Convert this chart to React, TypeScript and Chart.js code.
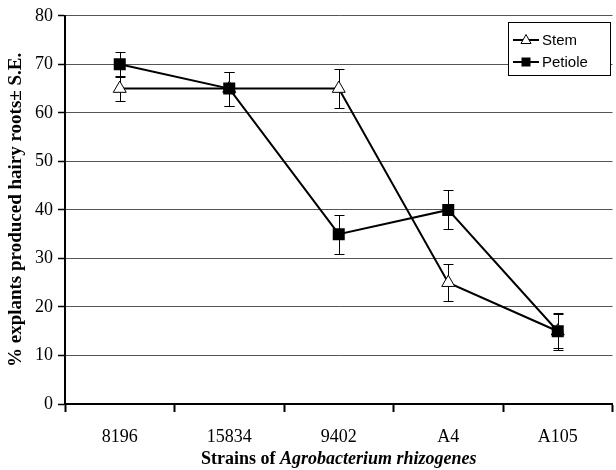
import React, { useEffect, useRef } from "react";
import { Chart, registerables } from "chart.js";

Chart.register(...registerables);

const categories = ["8196", "15834", "9402", "A4", "A105"];
const stemValues = [65, 65, 65, 25, 15];
const stemErrors = [2.6, 3.5, 4, 3.8, 3.5];
const petioleValues = [70, 65, 35, 40, 15];
const petioleErrors = [2.6, 3.5, 4, 4, 3.8];
const yTicks = [0, 10, 20, 30, 40, 50, 60, 70, 80];
const yTitle = "% explants produced hairy roots\u00b1 S.E.";
const xTitlePlain = "Strains of ";
const xTitleItalic = "Agrobacterium rhizogenes";

const serif = "'Liberation Serif', 'Times New Roman', serif";
const sans = "'Liberation Sans', Arial, sans-serif";

const errorBarPlugin = {
  id: "errorBars",
  beforeDatasetsDraw(chart: any) {
    const { ctx, scales } = chart;
    const x = scales.x;
    const y = scales.y;
    ctx.save();
    ctx.strokeStyle = "#000";
    ctx.lineWidth = 1;
    const sets = [
      { v: stemValues, e: stemErrors },
      { v: petioleValues, e: petioleErrors },
    ];
    sets.forEach(({ v, e }) => {
      v.forEach((val, i) => {
        const px = Math.round(x.getPixelForValue(i)) + 0.5;
        const top = Math.round(y.getPixelForValue(val + e[i])) + 0.5;
        const bot = Math.round(y.getPixelForValue(val - e[i])) + 0.5;
        ctx.beginPath();
        ctx.moveTo(px, top);
        ctx.lineTo(px, bot);
        ctx.moveTo(px - 5, top);
        ctx.lineTo(px + 5, top);
        ctx.moveTo(px - 5, bot);
        ctx.lineTo(px + 5, bot);
        ctx.stroke();
      });
    });
    ctx.restore();
  },
};

const extrasPlugin = {
  id: "extras",
  afterDraw(chart: any) {
    const { ctx, chartArea } = chart;
    ctx.save();
    // x-axis title with mixed fonts
    const fPlain = `bold 18px ${serif}`;
    const fItal = `italic bold 18px ${serif}`;
    ctx.font = fPlain;
    const w1 = ctx.measureText(xTitlePlain).width;
    ctx.font = fItal;
    const w2 = ctx.measureText(xTitleItalic).width;
    const cx = (chartArea.left + chartArea.right) / 2;
    const startX = cx - (w1 + w2) / 2;
    ctx.fillStyle = "#000";
    ctx.textBaseline = "middle";
    ctx.textAlign = "left";
    ctx.font = fPlain;
    ctx.fillText(xTitlePlain, startX, 459);
    ctx.font = fItal;
    ctx.fillText(xTitleItalic, startX + w1, 459);

    // legend
    const bx = 508.5, by = 22.5, bw = 102, bh = 53;
    ctx.fillStyle = "#fff";
    ctx.fillRect(bx, by, bw, bh);
    ctx.strokeStyle = "#000";
    ctx.lineWidth = 1;
    ctx.strokeRect(bx, by, bw, bh);
    const rows = [
      { label: "Stem", y: 40, kind: "tri" },
      { label: "Petiole", y: 62, kind: "sq" },
    ];
    rows.forEach((r) => {
      ctx.strokeStyle = "#000";
      ctx.lineWidth = 2;
      ctx.beginPath();
      ctx.moveTo(513, r.y);
      ctx.lineTo(539, r.y);
      ctx.stroke();
      const mx = 526;
      if (r.kind === "tri") {
        ctx.fillStyle = "#fff";
        ctx.lineWidth = 1;
        ctx.beginPath();
        ctx.moveTo(mx, r.y - 5.5);
        ctx.lineTo(mx + 5, r.y + 3.5);
        ctx.lineTo(mx - 5, r.y + 3.5);
        ctx.closePath();
        ctx.fill();
        ctx.stroke();
      } else {
        ctx.fillStyle = "#000";
        ctx.fillRect(mx - 4.5, r.y - 4.5, 9, 9);
      }
      ctx.fillStyle = "#000";
      ctx.font = `15px ${sans}`;
      ctx.textAlign = "left";
      ctx.textBaseline = "middle";
      ctx.fillText(r.label, 542, r.y + 1);
    });
    ctx.restore();
  },
};

export default function App() {
  const ref = useRef<HTMLCanvasElement | null>(null);
  useEffect(() => {
    document.body.style.margin = "0";
    const canvas = ref.current!;
    const chart = new Chart(canvas, {
      type: "line",
      data: {
        labels: categories,
        datasets: [
          {
            label: "Petiole",
            data: petioleValues,
            borderColor: "#000",
            backgroundColor: "#000",
            borderWidth: 2,
            pointStyle: "rect",
            pointRadius: 8.5,
            pointBorderWidth: 0,
            pointBackgroundColor: "#000",
            pointBorderColor: "#000",
            tension: 0,
            order: 0,
          },
          {
            label: "Stem",
            data: stemValues,
            borderColor: "#000",
            backgroundColor: "#fff",
            borderWidth: 2,
            pointStyle: "triangle",
            pointRadius: 7.5,
            pointBorderWidth: 1,
            pointBackgroundColor: "#fff",
            pointBorderColor: "#000",
            tension: 0,
            order: 1,
          },
        ],
      },
      options: {
        responsive: false,
        animation: false,
        events: [],
        layout: { padding: { top: 14, right: 0, left: 0, bottom: 0 } },
        plugins: {
          legend: { display: false },
          tooltip: { enabled: false },
        },
        scales: {
          x: {
            type: "category",
            offset: true,
            grid: {
              offset: true,
              drawOnChartArea: false,
              drawTicks: true,
              tickLength: 8,
              tickColor: "#000",
              tickWidth: 2,
            },
            border: { display: true, color: "#000", width: 2 },
            ticks: {
              color: "#000",
              font: { family: serif, size: 18 },
              padding: 14,
              maxRotation: 0,
            },
            afterFit(scale: any) {
              scale.height = 66;
            },
          },
          y: {
            min: 0,
            max: 80,
            afterBuildTicks(scale: any) {
              scale.ticks = yTicks.map((v) => ({ value: v }));
            },
            grid: {
              color: "#555",
              lineWidth: 1,
              tickLength: 7,
              tickColor: "#000",
              tickWidth: 1.5,
            },
            border: { display: true, color: "#000", width: 2 },
            ticks: {
              color: "#000",
              font: { family: serif, size: 18 },
              padding: 5,
            },
            title: {
              display: true,
              text: yTitle,
              color: "#000",
              font: { family: serif, size: 19, weight: "bold" },
              padding: { top: 5, bottom: 0 },
            },
            afterFit(scale: any) {
              scale.width = 65;
            },
          },
        },
      },
      plugins: [errorBarPlugin, extrasPlugin],
    });
    return () => chart.destroy();
  }, []);
  return (
    <div style={{ width: 616, height: 470, overflow: "hidden" }}>
      <canvas ref={ref} width={621} height={470} style={{ display: "block" }} />
    </div>
  );
}
